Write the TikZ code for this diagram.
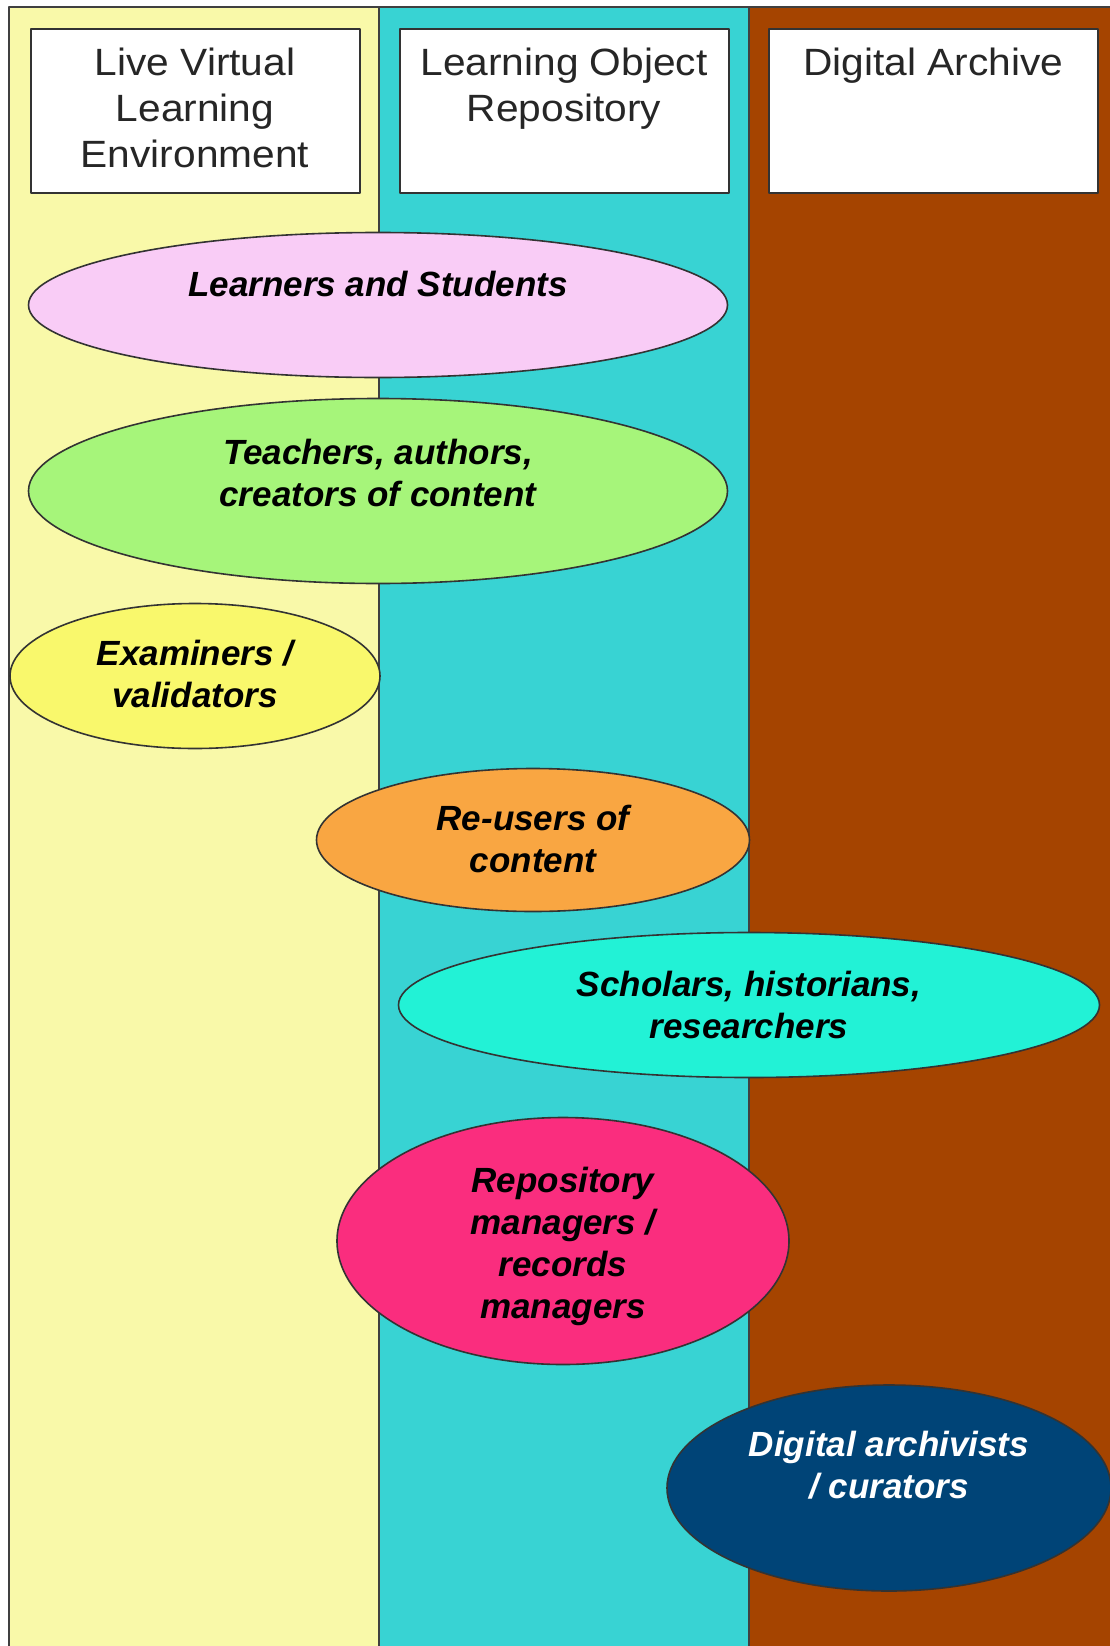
\documentclass[tikz,border=0pt]{standalone}
\usepackage{fontspec}
\setmainfont{Liberation Sans}
\newfontfamily\headfont[FakeStretch=1.07]{Liberation Sans}
\usetikzlibrary{shapes.geometric}
% lane and role colours
\definecolor{vlecol}{HTML}{F9F9A9}
\definecolor{lorcol}{HTML}{38D3D3}
\definecolor{arccol}{HTML}{A54400}
\definecolor{learncol}{HTML}{F9CCF6}
\definecolor{teachcol}{HTML}{A6F57A}
\definecolor{examcol}{HTML}{F9F86C}
\definecolor{reusecol}{HTML}{F9A642}
\definecolor{scholcol}{HTML}{22F2D6}
\definecolor{repocol}{HTML}{FA2D7E}
\definecolor{archcol}{HTML}{004477}
\begin{document}
\begin{tikzpicture}[x=1pt,y=-1pt, line join=round, line cap=round,
	lane/.style={draw=black!75, line width=1.2pt},
	head/.style={draw=black!80, fill=white, line width=2pt, minimum width=329pt, minimum height=164pt, inner sep=0pt},
	headtext/.style={anchor=north, align=center, inner sep=0pt, text=black!85, font=\headfont\fontsize{38}{46}\selectfont},
	role/.style={ellipse, draw=black!80, line width=1.6pt, inner sep=0pt},
	roletext/.style={align=center, inner sep=0pt, font=\fontsize{35}{42}\selectfont\bfseries\itshape}]
	\useasboundingbox (0,0) rectangle (1109,1646);
	% three lanes
	\fill[white] (0,0) rectangle (1109,1646);
	\filldraw[lane, fill=vlecol] (9,7) rectangle (379,1650);
	\filldraw[lane, fill=lorcol] (379,7) rectangle (749,1650);
	\filldraw[lane, fill=arccol] (749,7) rectangle (1115,1650);
	% lane headings
	\node[head] (vle) at (195,111) {};
	\node[head] (lor) at (564,111) {};
	\node[head] (arc) at (933.5,111) {};
	\node[headtext] (vletext) at (vle.north |- 0,48) {Live Virtual\\Learning\\Environment};
	\node[headtext] (lortext) at (lor.north |- 0,48) {Learning Object\\Repository};
	\node[headtext] (arctext) at (arc.north |- 0,48) {Digital Archive};
	% roles
	\node[role, fill=learncol, minimum width=699pt, minimum height=145pt] (learners) at (378,305) {};
	\node[roletext] (learnerstext) at (378,284) {Learners and Students};
	\node[role, fill=teachcol, minimum width=699pt, minimum height=185pt] (teachers) at (378,491) {};
	\node[roletext] (teacherstext) at (378,473) {Teachers, authors,\\creators of content};
	\node[role, fill=examcol, minimum width=370pt, minimum height=145pt] (examiners) at (195,676) {};
	\node[roletext] (examinerstext) at (195,674) {Examiners /\\validators};
	\node[role, fill=reusecol, minimum width=433pt, minimum height=143pt] (reusers) at (533,840) {};
	\node[roletext] (reuserstext) at (533,839) {Re-users of\\content};
	\node[role, fill=scholcol, minimum width=701pt, minimum height=145pt] (scholars) at (749,1005) {};
	\node[roletext] (scholarstext) at (749,1005) {Scholars, historians,\\researchers};
	\node[role, fill=repocol, minimum width=452pt, minimum height=247pt] (repomgr) at (563,1241) {};
	\node[roletext] (repomgrtext) at (563,1246) {Repository\\managers /\\records\\managers};
	\node[role, fill=archcol, minimum width=444pt, minimum height=206pt] (archivists) at (889,1488) {};
	\node[roletext, text=white] (archiviststext) at (889,1465) {Digital archivists\\/ curators};
\end{tikzpicture}
\end{document}
